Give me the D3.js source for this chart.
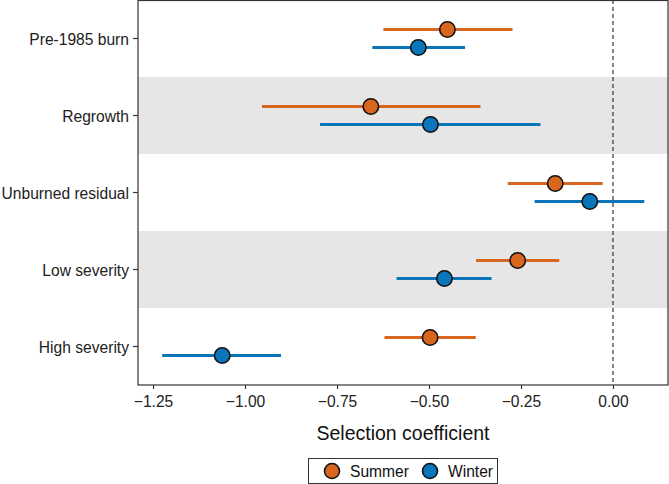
<!DOCTYPE html>
<html><head><meta charset="utf-8">
<script src="https://cdn.jsdelivr.net/npm/d3@7"></script>
<style>body{margin:0;background:#fff}svg{display:block;font-family:"Liberation Sans",Arial,sans-serif}</style>
</head><body><svg id="c" width="669" height="484"></svg>
<script>
const categories = ["Pre-1985 burn","Regrowth","Unburned residual","Low severity","High severity"];
const seasons = ["Summer","Winter"];
const summerEst = [-0.450,-0.658,-0.157,-0.259,-0.497];
const summerLo  = [-0.624,-0.954,-0.286,-0.372,-0.621];
const summerHi  = [-0.273,-0.360,-0.028,-0.146,-0.373];
const winterEst = [-0.529,-0.496,-0.063,-0.458,-1.062];
const winterLo  = [-0.654,-0.796,-0.213,-0.588,-1.225];
const winterHi  = [-0.402,-0.197, 0.085,-0.330,-0.902];
const xTicks = [-1.25,-1.00,-0.75,-0.50,-0.25,0.00];
const colors = {Summer:"#D9661F", Winter:"#0A76B9"};

const rows = [];
categories.forEach((c,i)=>{
  rows.push({cat:c, season:"Summer", est:summerEst[i], lo:summerLo[i], hi:summerHi[i]});
  rows.push({cat:c, season:"Winter", est:winterEst[i], lo:winterLo[i], hi:winterHi[i]});
});

const svg = d3.select("#c");
const L=138, R=668, T=0, B=385;
const x = d3.scaleLinear().domain([-1.2908, 0.1495]).range([L,R]);
const y = d3.scaleBand().domain(categories).range([T,B]);
const dodge = d3.scalePoint().domain(seasons).range([-9,9]);

// stripes
svg.selectAll("rect.stripe").data(categories.filter((d,i)=>i%2===1)).enter()
  .append("rect").attr("x",L).attr("width",R-L).attr("y",d=>y(d)).attr("height",y.bandwidth())
  .attr("fill","#e6e6e6");

// zero line
svg.append("line").attr("x1",x(0)).attr("x2",x(0)).attr("y1",T).attr("y2",B)
  .attr("stroke","#222").attr("stroke-width",1.1).attr("stroke-dasharray","4,3");

// error bars
svg.selectAll("line.err").data(rows).enter().append("line")
  .attr("x1",d=>x(d.lo)).attr("x2",d=>x(d.hi))
  .attr("y1",d=>y(d.cat)+y.bandwidth()/2+dodge(d.season))
  .attr("y2",d=>y(d.cat)+y.bandwidth()/2+dodge(d.season))
  .attr("stroke",d=>colors[d.season]).attr("stroke-width",2.8);

// points
svg.selectAll("circle.pt").data(rows).enter().append("circle")
  .attr("cx",d=>x(d.est)).attr("cy",d=>y(d.cat)+y.bandwidth()/2+dodge(d.season))
  .attr("r",7.7).attr("fill",d=>colors[d.season]).attr("stroke","#111").attr("stroke-width",1.6);

// panel border
svg.append("rect").attr("x",L).attr("y",T+0.5).attr("width",R-L).attr("height",B-T-0.5)
  .attr("fill","none").attr("stroke","#333").attr("stroke-width",1.2);

// axes
const xa = svg.append("g").attr("transform",`translate(0,${B})`)
  .call(d3.axisBottom(x).tickValues(xTicks).tickFormat(d=>d3.format(".2f")(d).replace("-","\u2212")).tickSize(4).tickPadding(7));
xa.select(".domain").remove();
xa.selectAll("line").attr("stroke","#333").attr("stroke-width",1.2);
xa.selectAll("text").attr("font-size",15.6).attr("fill","#222").attr("font-family","Liberation Sans, Arial, sans-serif");

const ya = svg.append("g").attr("transform",`translate(${L},0)`)
  .call(d3.axisLeft(y).tickSize(5).tickPadding(4));
ya.select(".domain").remove();
ya.selectAll("line").attr("stroke","#333").attr("stroke-width",1.2);
ya.selectAll("text").attr("font-size",15.6).attr("fill","#222").attr("dy","0.42em").attr("font-family","Liberation Sans, Arial, sans-serif");

svg.append("text").attr("x",(L+R)/2).attr("y",440).attr("text-anchor","middle")
  .attr("font-size",19.5).attr("fill","#111").text("Selection coefficient");

// legend
const lg = svg.append("g");
lg.append("rect").attr("x",308.5).attr("y",458.5).attr("width",189).attr("height",25)
  .attr("fill","#fff").attr("stroke","#333").attr("stroke-width",1);
const lx = {Summer:332, Winter:430};
seasons.forEach(s=>{
  lg.append("circle").attr("cx",lx[s]).attr("cy",471).attr("r",7.5)
    .attr("fill",colors[s]).attr("stroke","#111").attr("stroke-width",1.6);
  lg.append("text").attr("x",lx[s]+18).attr("y",476.5).attr("font-size",15.6).attr("fill","#111").text(s);
});
</script></body></html>
